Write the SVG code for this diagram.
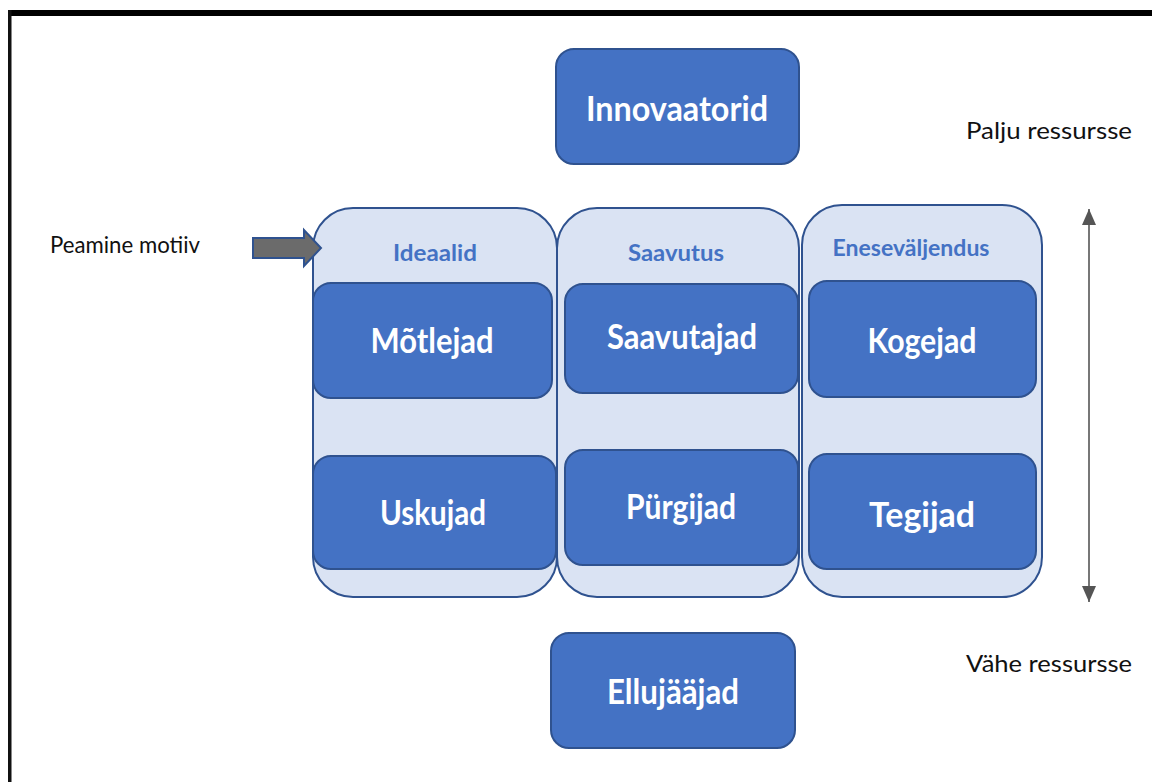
<svg xmlns="http://www.w3.org/2000/svg" width="1152" height="782" viewBox="0 0 1152 782">
<defs>
<style>
.box{fill:#4472C4;stroke:#2F528F;stroke-width:2}
.col{fill:#DAE3F3;stroke:#2F528F;stroke-width:2}
.big{font-family:Lato,"Open Sans",sans-serif;font-weight:bold;font-size:34px;fill:#FFFFFF;text-anchor:middle}
.lab{font-family:Lato,"Open Sans",sans-serif;font-weight:bold;font-size:22px;fill:#4472C4;text-anchor:middle}
.note{font-family:Lato,"Open Sans",sans-serif;font-size:23px;fill:#111111}
</style>
<marker id="ah" viewBox="0 0 16 14" refX="16" refY="7" markerWidth="16" markerHeight="14" markerUnits="userSpaceOnUse" orient="auto"><path d="M0,0 L16,7 L0,14 Z" fill="#555555"/></marker>
</defs>
<rect x="0" y="0" width="1152" height="782" fill="#FFFFFF"/>
<g id="frame">
<rect x="8" y="10" width="1144" height="6" fill="#000000"/>
<rect x="8" y="10" width="3.5" height="772" fill="#111111"/>
</g>
<g id="col-ideaalid">
<rect class="col" x="313" y="208" width="244" height="389" rx="40"/>
<text class="lab" x="435" y="261" textLength="84" lengthAdjust="spacingAndGlyphs">Ideaalid</text>
</g>
<g id="col-saavutus">
<rect class="col" x="557" y="208" width="242" height="389" rx="40"/>
<text class="lab" x="676" y="261" textLength="96" lengthAdjust="spacingAndGlyphs">Saavutus</text>
</g>
<g id="col-eneseväljendus">
<rect class="col" x="802" y="205" width="240" height="392" rx="40"/>
<text class="lab" x="911" y="256" textLength="157" lengthAdjust="spacingAndGlyphs">Eneseväljendus</text>
</g>
<g id="innovaatorid">
<rect class="box" x="556" y="49" width="243" height="115" rx="18"/>
<text class="big" x="677" y="121" textLength="182" lengthAdjust="spacingAndGlyphs">Innovaatorid</text>
</g>
<g id="motlejad">
<rect class="box" x="313" y="283" width="239" height="115" rx="18"/>
<text class="big" x="432" y="353" textLength="123" lengthAdjust="spacingAndGlyphs">Mõtlejad</text>
</g>
<g id="saavutajad">
<rect class="box" x="565" y="284" width="233" height="109" rx="18"/>
<text class="big" x="682" y="349" textLength="150" lengthAdjust="spacingAndGlyphs">Saavutajad</text>
</g>
<g id="kogejad">
<rect class="box" x="809" y="281" width="227" height="116" rx="18"/>
<text class="big" x="922" y="353" textLength="109" lengthAdjust="spacingAndGlyphs">Kogejad</text>
</g>
<g id="uskujad">
<rect class="box" x="313" y="456" width="243" height="113" rx="18"/>
<text class="big" x="433" y="525" textLength="106" lengthAdjust="spacingAndGlyphs">Uskujad</text>
</g>
<g id="purgijad">
<rect class="box" x="565" y="450" width="233" height="115" rx="18"/>
<text class="big" x="681" y="519" textLength="110" lengthAdjust="spacingAndGlyphs">Pürgijad</text>
</g>
<g id="tegijad">
<rect class="box" x="809" y="454" width="227" height="115" rx="18"/>
<text class="big" x="922" y="527" textLength="106" lengthAdjust="spacingAndGlyphs">Tegijad</text>
</g>
<g id="ellujaajad">
<rect class="box" x="551" y="633" width="244" height="115" rx="18"/>
<text class="big" x="673" y="704" textLength="132" lengthAdjust="spacingAndGlyphs">Ellujääjad</text>
</g>
<g id="labels">
<text class="note" x="966" y="139" textLength="166" lengthAdjust="spacingAndGlyphs">Palju ressursse</text>
<text class="note" x="966" y="672" textLength="166" lengthAdjust="spacingAndGlyphs">Vähe ressursse</text>
<text class="note" x="50" y="253" textLength="150" lengthAdjust="spacingAndGlyphs">Peamine motiiv</text>
</g>
<g id="connectors">
<path d="M253,238 L304,238 L304,230 L321,248 L304,266 L304,258 L253,258 Z" fill="#6B6B6B" stroke="#2F528F" stroke-width="2" stroke-linejoin="miter"/>
<line x1="1089" y1="400" x2="1089" y2="209" stroke="#555555" stroke-width="1.6" marker-end="url(#ah)"/>
<line x1="1089" y1="400" x2="1089" y2="602" stroke="#555555" stroke-width="1.6" marker-end="url(#ah)"/>
</g>
</svg>
